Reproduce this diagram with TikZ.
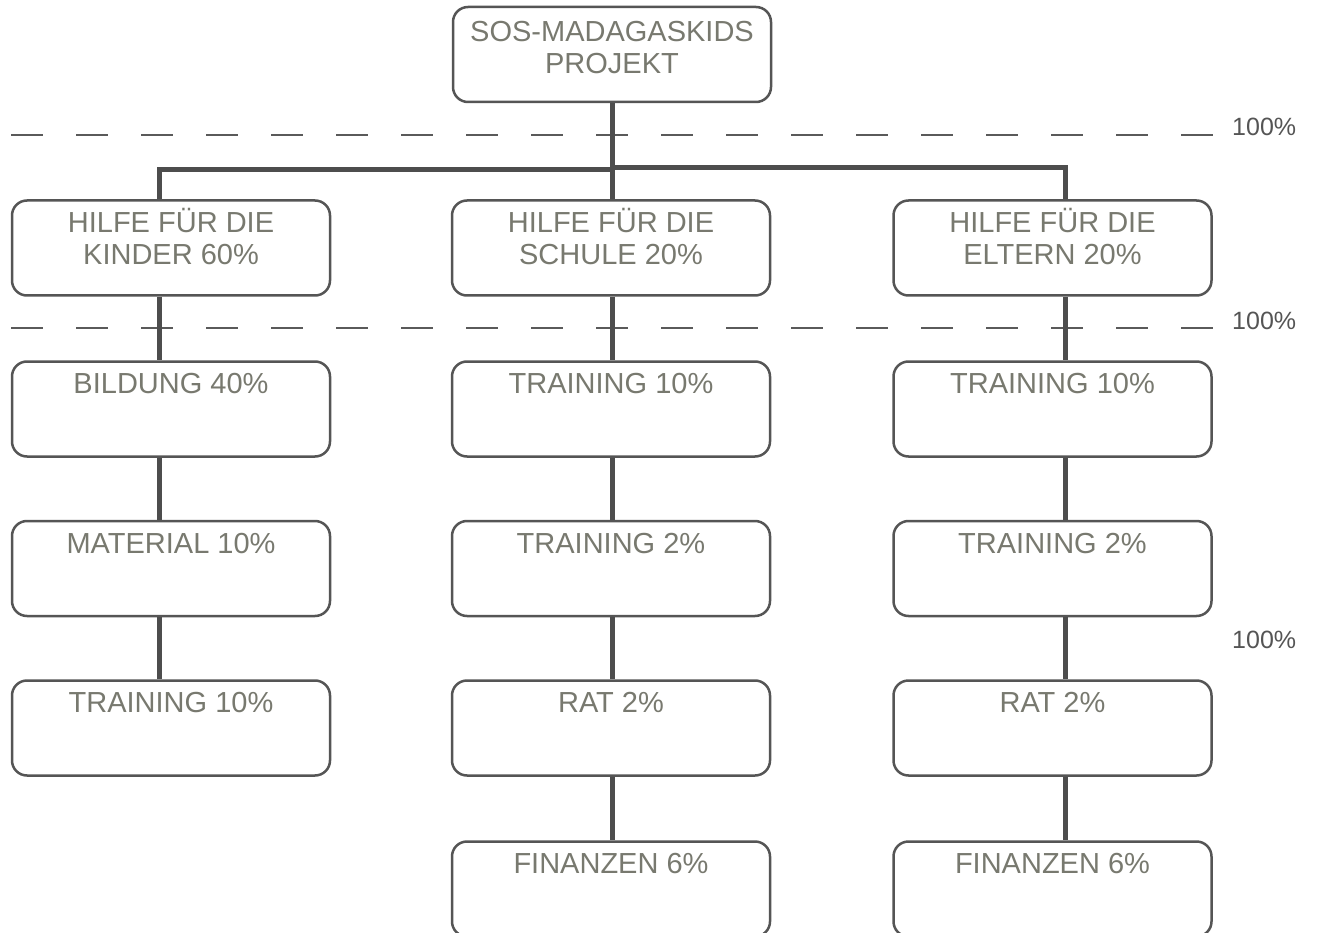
\documentclass[tikz,border=0pt]{standalone}
\usepackage{fontspec}
\setmainfont{Liberation Sans}
\definecolor{txtcol}{RGB}{120,121,111}
\definecolor{bordercol}{RGB}{85,85,85}
\definecolor{conncol}{RGB}{77,77,77}
\definecolor{dashcol}{RGB}{90,90,90}
\definecolor{pctcol}{RGB}{85,85,85}
\newcommand{\bt}[2][32pt]{\parbox[c][95pt][t]{316pt}{\centering\fontsize{29}{32}\selectfont\rule{0pt}{#1}#2}}
\begin{document}
\begin{tikzpicture}[x=1pt,y=-1pt,
  box/.style={draw=bordercol, line width=2.5pt, rounded corners=15pt, minimum width=318pt, minimum height=95pt, inner sep=0pt, text=txtcol, fill=white},
  conn/.style={draw=conncol, line width=5pt},
  sepline/.style={draw=dashcol, line width=2pt, dash pattern=on 32pt off 33pt},
  pct/.style={text=pctcol, font=\fontsize{25}{30}\selectfont, anchor=base west, inner sep=0pt}]
\clip (0,0) rectangle (1317,933);
\fill[white] (0,0) rectangle (1317,933);

% separators
\coordinate (d1a) at (11,135);
\coordinate (d1b) at (1214,135);
\coordinate (d2a) at (11,328);
\coordinate (d2b) at (1214,328);
\draw[sepline] (d1a) -- (d1b);
\draw[sepline] (d2a) -- (d2b);
\node[pct] (p1) at (1232,136) {100\%};
\node[pct] (p2) at (1232,329) {100\%};
\node[pct] (p3) at (1232,648) {100\%};

% nodes
\node[box] (top) at (612,54.5) {\bt[35pt]{SOS-MADAGASKIDS\\PROJEKT}};

\node[box] (k1) at (171,248) {\bt{HILFE FÜR DIE\\KINDER 60\%}};
\node[box] (k2) at (171,409) {\bt{BILDUNG 40\%}};
\node[box] (k3) at (171,568.5) {\bt{MATERIAL 10\%}};
\node[box] (k4) at (171,728) {\bt{TRAINING 10\%}};

\node[box] (s1) at (611,248) {\bt{HILFE FÜR DIE\\SCHULE 20\%}};
\node[box] (s2) at (611,409) {\bt{TRAINING 10\%}};
\node[box] (s3) at (611,568.5) {\bt{TRAINING 2\%}};
\node[box] (s4) at (611,728) {\bt{RAT 2\%}};
\node[box] (s5) at (611,889) {\bt{FINANZEN 6\%}};

\node[box] (e1) at (1052.5,248) {\bt{HILFE FÜR DIE\\ELTERN 20\%}};
\node[box] (e2) at (1052.5,409) {\bt{TRAINING 10\%}};
\node[box] (e3) at (1052.5,568.5) {\bt{TRAINING 2\%}};
\node[box] (e4) at (1052.5,728) {\bt{RAT 2\%}};
\node[box] (e5) at (1052.5,889) {\bt{FINANZEN 6\%}};

% connector columns
\coordinate (cL) at (159,0);
\coordinate (cM) at (612,0);
\coordinate (cR) at (1065,0);
\coordinate (hL) at (0,170);
\coordinate (hR) at (0,168);

\draw[conn] (top.south) -- (s1.north -| cM);
\draw[conn] (k1.north -| cL) -- (cL |- hL) -- (cM |- hL);
\draw[conn] (cM |- hR) -- (cR |- hR) -- (e1.north -| cR);

\draw[conn] (k1.south -| cL) -- (k2.north -| cL);
\draw[conn] (k2.south -| cL) -- (k3.north -| cL);
\draw[conn] (k3.south -| cL) -- (k4.north -| cL);

\draw[conn] (s1.south -| cM) -- (s2.north -| cM);
\draw[conn] (s2.south -| cM) -- (s3.north -| cM);
\draw[conn] (s3.south -| cM) -- (s4.north -| cM);
\draw[conn] (s4.south -| cM) -- (s5.north -| cM);

\draw[conn] (e1.south -| cR) -- (e2.north -| cR);
\draw[conn] (e2.south -| cR) -- (e3.north -| cR);
\draw[conn] (e3.south -| cR) -- (e4.north -| cR);
\draw[conn] (e4.south -| cR) -- (e5.north -| cR);
\end{tikzpicture}
\end{document}
